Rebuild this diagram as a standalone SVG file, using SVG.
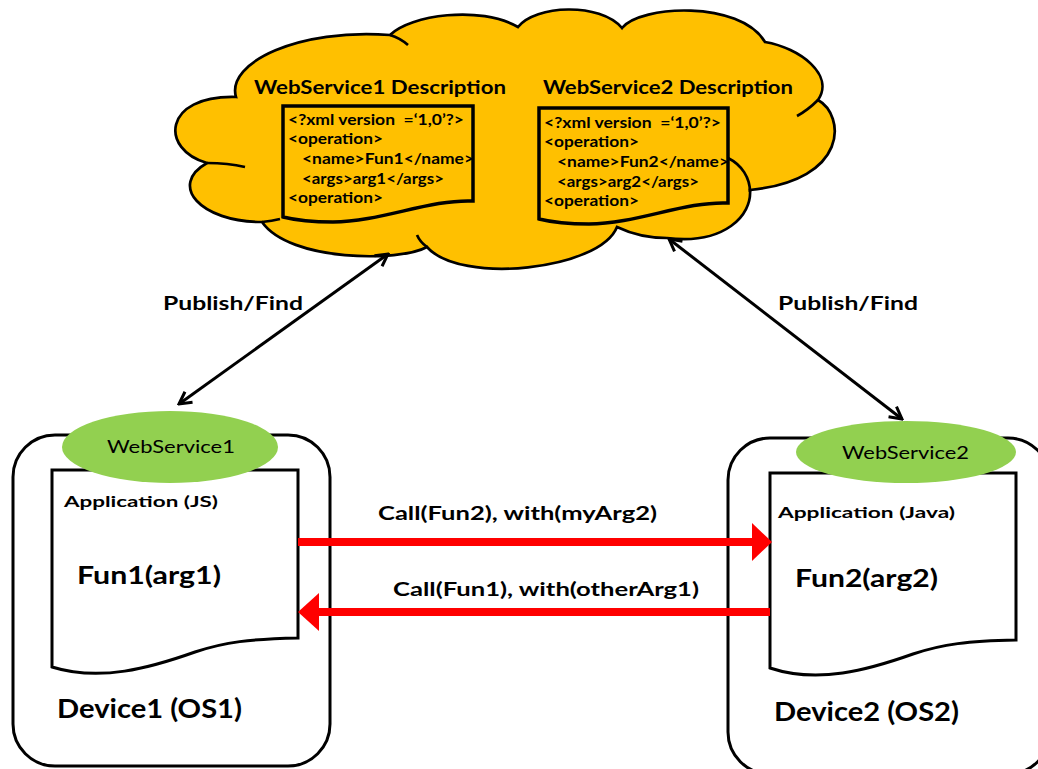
<svg xmlns="http://www.w3.org/2000/svg" width="1038" height="769" viewBox="0 0 1038 769">
<style>
text{font-family:Lato,"Liberation Sans",sans-serif;fill:#000}
.title{font-size:19px;font-weight:bold}
.xml{font-size:14.5px;font-weight:bold;white-space:pre}
.pf{font-size:19px;font-weight:bold}
.ws{font-size:18px}
.app{font-size:16px;font-weight:bold}
.fun{font-size:24px;font-weight:bold}
.dev{font-size:26px;font-weight:bold}
.call{font-size:19px;font-weight:bold}
.cloud{fill:#FFC000;stroke:#000;stroke-width:2.7}
.stub{fill:none;stroke:#000;stroke-width:2.7}
.wdoc{fill:#FFC000;stroke:#000;stroke-width:3.5}
.adoc{fill:#fff;stroke:#000;stroke-width:3}
.dbox{fill:#fff;stroke:#000;stroke-width:3}
.ell{fill:#92D050}
.blk{stroke:#000;stroke-width:3;fill:none}
.red{stroke:#FF0000;stroke-width:8;fill:none}
.redhead{fill:#FF0000}
</style>
<defs>
<marker id="vh" markerUnits="userSpaceOnUse" markerWidth="16" markerHeight="16" viewBox="0 0 16 16" refX="14" refY="8" orient="auto-start-reverse">
<path d="M2,1.5 L14,8 L2,14.5" fill="none" stroke="#000" stroke-width="3"/>
</marker>
</defs>

<g id="cloud">
<path class="cloud" d="M236,97 C226,62 300,28 390,35 C410,15 480,5 518,27 C535,5 600,2 622,28 C640,5 740,0 765,42 C800,48 835,75 818,100 C845,115 850,180 750,190 C752,215 725,245 667,238 Q640,238 617,227 C600,270 460,285 427,247 C400,262 290,262 262,222 C200,222 168,185 207,163 C160,150 162,95 236,97 Z"/>
<path class="stub" d="M207,163 Q228,163 245,167 M262,222 Q272,221 280,219 M427,247 Q420,242 417,235 M390,35 Q400,38 408,45 M818,100 Q808,110 797,116 M728,158 C742,165 750,178 750,192"/>
</g>

<g id="ws1desc">
<text class="title" x="254" y="94" textLength="252" lengthAdjust="spacingAndGlyphs">WebService1 Description</text>
<path class="wdoc" d="M283,106 H473 V201 C430,199 380,222 333,222 C310,222 295,220 283,217 Z"/>
<text class="xml" x="288" y="125" textLength="176" lengthAdjust="spacingAndGlyphs" xml:space="preserve">&lt;?xml version  =‘1,0’?&gt;</text>
<text class="xml" x="288" y="144" textLength="95" lengthAdjust="spacingAndGlyphs">&lt;operation&gt;</text>
<text class="xml" x="302" y="164" textLength="172" lengthAdjust="spacingAndGlyphs">&lt;name&gt;Fun1&lt;/name&gt;</text>
<text class="xml" x="302" y="184" textLength="142" lengthAdjust="spacingAndGlyphs">&lt;args&gt;arg1&lt;/args&gt;</text>
<text class="xml" x="288" y="203" textLength="95" lengthAdjust="spacingAndGlyphs">&lt;operation&gt;</text>
</g>

<g id="ws2desc">
<text class="title" x="543" y="94" textLength="250" lengthAdjust="spacingAndGlyphs">WebService2 Description</text>
<path class="wdoc" d="M539,108 H728 V203 C685,201 636,224 589,224 C566,224 551,222 539,219 Z"/>
<text class="xml" x="544" y="128" textLength="177" lengthAdjust="spacingAndGlyphs" xml:space="preserve">&lt;?xml version  =‘1,0’?&gt;</text>
<text class="xml" x="544" y="147" textLength="95" lengthAdjust="spacingAndGlyphs">&lt;operation&gt;</text>
<text class="xml" x="557" y="167" textLength="172" lengthAdjust="spacingAndGlyphs">&lt;name&gt;Fun2&lt;/name&gt;</text>
<text class="xml" x="557" y="187" textLength="142" lengthAdjust="spacingAndGlyphs">&lt;args&gt;arg2&lt;/args&gt;</text>
<text class="xml" x="544" y="206" textLength="95" lengthAdjust="spacingAndGlyphs">&lt;operation&gt;</text>
</g>

<g id="device1">
<rect class="dbox" x="13" y="435" width="317" height="331" rx="42"/>
<path class="adoc" d="M52,470 H298 V638 C250,639 225,642 195,652 C150,668 100,682 52,667 Z"/>
<ellipse class="ell" cx="170" cy="447" rx="108" ry="36"/>
<text class="ws" x="107" y="453" textLength="128" lengthAdjust="spacingAndGlyphs">WebService1</text>
<text class="app" x="64" y="507" textLength="154" lengthAdjust="spacingAndGlyphs">Application (JS)</text>
<text class="fun" x="77" y="584" textLength="144" lengthAdjust="spacingAndGlyphs">Fun1(arg1)</text>
<text class="dev" x="57" y="718" textLength="185" lengthAdjust="spacingAndGlyphs">Device1 (OS1)</text>
</g>

<g id="device2">
<rect class="dbox" x="728" y="438" width="322" height="336" rx="42"/>
<path class="adoc" d="M770,473 H1016 V640 C968,641 943,644 913,654 C868,670 818,684 770,668 Z"/>
<ellipse class="ell" cx="906" cy="452" rx="110" ry="31"/>
<text class="ws" x="842" y="459" textLength="127" lengthAdjust="spacingAndGlyphs">WebService2</text>
<text class="app" x="778" y="518" textLength="177" lengthAdjust="spacingAndGlyphs">Application (Java)</text>
<text class="fun" x="795" y="587" textLength="143" lengthAdjust="spacingAndGlyphs">Fun2(arg2)</text>
<text class="dev" x="774" y="721" textLength="185" lengthAdjust="spacingAndGlyphs">Device2 (OS2)</text>
</g>

<g id="connectors">
<line class="blk" x1="388" y1="254" x2="179" y2="404" marker-start="url(#vh)" marker-end="url(#vh)"/>
<line class="blk" x1="669" y1="239" x2="902" y2="419" marker-start="url(#vh)" marker-end="url(#vh)"/>
<text class="pf" x="163" y="310" textLength="140" lengthAdjust="spacingAndGlyphs">Publish/Find</text>
<text class="pf" x="778" y="310" textLength="140" lengthAdjust="spacingAndGlyphs">Publish/Find</text>
<line class="red" x1="298" y1="542" x2="754" y2="542"/>
<polygon class="redhead" points="752,523 772,542 752,561"/>
<line class="red" x1="770" y1="612" x2="317" y2="612"/>
<polygon class="redhead" points="319,593 298,612 319,631"/>
<text class="call" x="378" y="520" textLength="279" lengthAdjust="spacingAndGlyphs">Call(Fun2), with(myArg2)</text>
<text class="call" x="393" y="596" textLength="306" lengthAdjust="spacingAndGlyphs">Call(Fun1), with(otherArg1)</text>
</g>
</svg>
